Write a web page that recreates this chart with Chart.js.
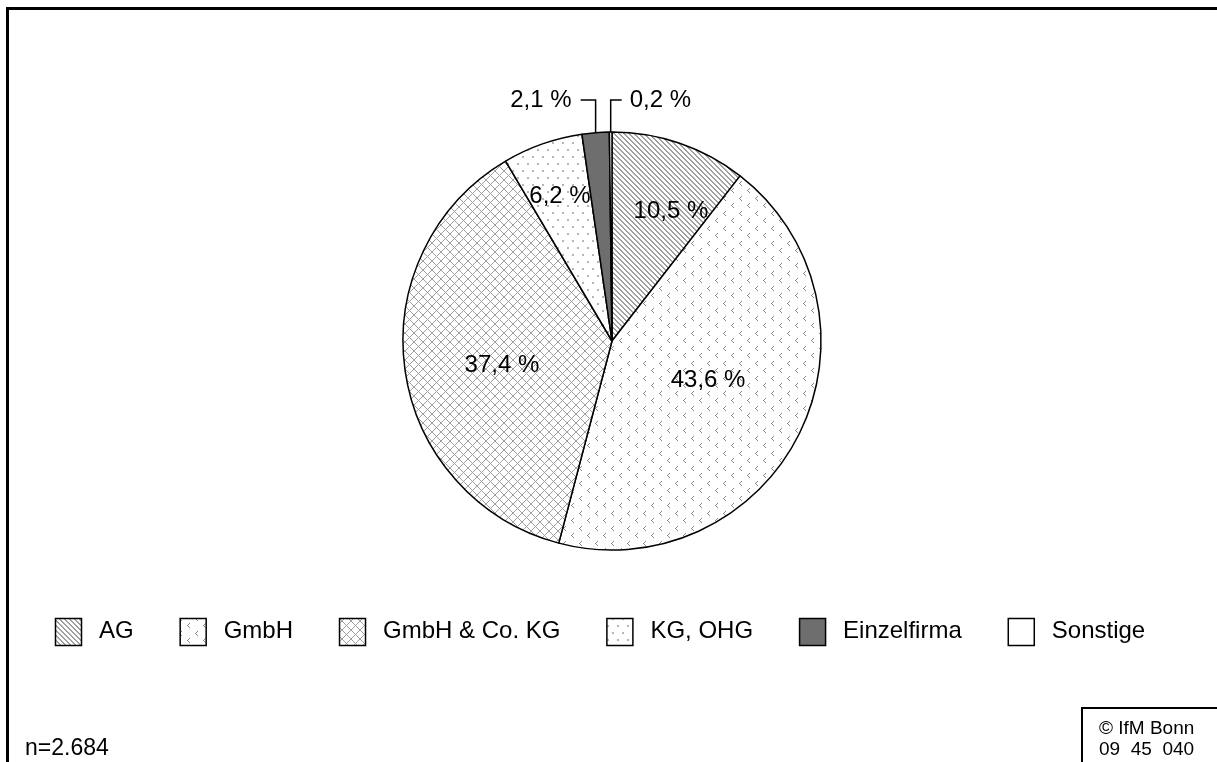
<!DOCTYPE html>
<html lang="de">
<head>
  <meta charset="UTF-8">
  <title>Rechtsformen</title>
  <script src="https://cdn.jsdelivr.net/npm/chart.js"></script>
  <style>
    html, body { margin: 0; padding: 0; background: #fff; }
    body {
      width: 1217px; height: 762px; position: relative; overflow: hidden;
      font-family: "Liberation Sans", Arial, sans-serif; color: #000;
    }
    #chart { position: absolute; left: 0; top: 0; }
    #frame {
      position: absolute; left: 6px; top: 7px; width: 1300px; height: 900px;
      border-left: 3px solid #000; border-top: 3px solid #000;
    }
    #n { position: absolute; left: 25px; top: 734px; font-size: 23px; line-height: 26px; }
    #src {
      position: absolute; left: 1081px; top: 707px; width: 200px; height: 100px;
      border-left: 2px solid #000; border-top: 2px solid #000;
      font-size: 19px; line-height: 21px; white-space: pre; padding: 8px 0 0 16px;
    }
  </style>
</head>
<body>
  <canvas id="chart" width="1217" height="762"></canvas>
  <div id="frame"></div>
  <div id="n">n=2.684</div>
  <div id="src">© IfM Bonn
09  45  040</div>

  <script>
    const categories = ['AG', 'GmbH', 'GmbH & Co. KG', 'KG, OHG', 'Einzelfirma', 'Sonstige'];
    const shares = [10.5, 43.6, 37.4, 6.2, 2.1, 0.2];

    const fmt = v => v.toFixed(1).replace('.', ',') + ' %';

    // small tiles for the hatch fills
    function tile(w, h, draw) {
      const c = document.createElement('canvas');
      c.width = w; c.height = h;
      const g = c.getContext('2d');
      g.fillStyle = '#fff';
      g.fillRect(0, 0, w, h);
      draw(g);
      return g.createPattern(c, 'repeat');
    }

    const stripes = tile(5, 5, g => {
      g.fillStyle = '#a0a0a0';
      for (let i = 0; i < 5; i++) {
        g.fillRect(i, i, 1, 1);
        g.fillRect((i + 1) % 5, i, 1, 1);
      }
    });
    const chevrons = tile(16, 15, g => {
      g.fillStyle = '#8a8a8a';
      [[3, 1], [11, 8]].forEach(([x, y]) => {
        g.fillRect(x + 2, y, 1, 1);
        g.fillRect(x + 1, y + 1, 1, 1);
        g.fillRect(x, y + 2, 1, 1);
        g.fillRect(x + 1, y + 3, 1, 1);
        g.fillRect(x + 2, y + 4, 1, 1);
      });
    });
    const crosses = tile(9, 9, g => {
      g.fillStyle = '#a0a0a0';
      for (let i = 0; i < 9; i++) {
        g.fillRect(i, i, 1, 1);
        g.fillRect(8 - i, i, 1, 1);
      }
    });
    const dots = tile(10, 14, g => {
      g.fillStyle = '#b5b5b5';
      g.fillRect(2, 2, 2, 2);
      g.fillRect(7, 9, 2, 2);
    });
    const fills = [stripes, chevrons, crosses, dots, '#6e6e6e', '#ffffff'];

    const sliceLabels = {
      id: 'sliceLabels',
      afterDatasetsDraw(chart, args, opts) {
        const c = chart.ctx;
        const arcs = chart.getDatasetMeta(0).data;
        c.save();
        c.font = opts.font;
        c.fillStyle = '#000';
        c.strokeStyle = '#000';
        c.lineWidth = 1.5;
        c.textBaseline = 'middle';
        arcs.forEach((arc, i) => {
          const p = arc.getProps(['x', 'y', 'startAngle', 'endAngle', 'outerRadius'], true);
          const mid = (p.startAngle + p.endAngle) / 2;
          const place = opts.place[i];
          const text = fmt(shares[i]);
          if (place.leader) {
            const lx = p.x + p.outerRadius * Math.cos(mid);
            const ly = p.y + p.outerRadius * Math.sin(mid);
            const top = p.y - p.outerRadius - place.rise;
            const dir = place.leader;
            c.beginPath();
            c.moveTo(lx, ly);
            c.lineTo(lx, top);
            c.lineTo(lx + dir * place.arm, top);
            c.stroke();
            c.textAlign = dir < 0 ? 'right' : 'left';
            c.fillText(text, lx + dir * (place.arm + place.gap), top);
          } else {
            const a = mid + place.turn * Math.PI / 180;
            const r = p.outerRadius * place.r;
            c.textAlign = 'center';
            c.fillText(text, p.x + r * Math.cos(a), p.y + r * Math.sin(a));
          }
        });
        c.restore();
      }
    };

    const legendRow = {
      id: 'legendRow',
      afterDraw(chart, args, o) {
        const c = chart.ctx;
        c.save();
        c.font = o.font;
        c.textBaseline = 'middle';
        c.textAlign = 'left';
        c.lineWidth = 1.5;
        c.strokeStyle = '#000';
        const widths = categories.map(t => o.box + o.textGap + c.measureText(t).width);
        const total = widths.reduce((a, b) => a + b, 0) + o.itemGap * (widths.length - 1);
        let x = Math.round(o.centerX - total / 2);
        categories.forEach((t, i) => {
          const top = Math.round(o.y - o.boxH / 2);
          c.fillStyle = fills[i];
          c.fillRect(x, top, o.box, o.boxH);
          c.strokeRect(x + 0.5, top + 0.5, o.box, o.boxH);
          c.fillStyle = '#000';
          c.fillText(t, x + o.box + o.textGap, o.y);
          x += widths[i] + o.itemGap;
        });
        c.restore();
      }
    };

    new Chart(document.getElementById('chart'), {
      type: 'pie',
      data: {
        labels: categories,
        datasets: [{
          data: shares,
          backgroundColor: fills,
          borderColor: '#000',
          borderWidth: 1.5
        }]
      },
      options: {
        responsive: false,
        animation: false,
        events: [],
        radius: 209,
        layout: { padding: { left: 392, right: 385, top: 101, bottom: 181 } },
        plugins: {
          legend: { display: false },
          tooltip: { enabled: false },
          sliceLabels: {
            font: '24px "Liberation Sans", Arial, sans-serif',
            place: [
              { r: 0.683, turn: 5.5 },
              { r: 0.496, turn: -4.2 },
              { r: 0.539, turn: -4.4 },
              { r: 0.737, turn: -0.3 },
              { leader: -1, rise: 32, arm: 15, gap: 9 },
              { leader: 1, rise: 32, arm: 11, gap: 8 }
            ]
          },
          legendRow: {
            font: '24px "Liberation Sans", Arial, sans-serif',
            centerX: 600, y: 631, box: 26, boxH: 27, textGap: 18, itemGap: 46
          }
        }
      },
      plugins: [sliceLabels, legendRow]
    });
  </script>
</body>
</html>
